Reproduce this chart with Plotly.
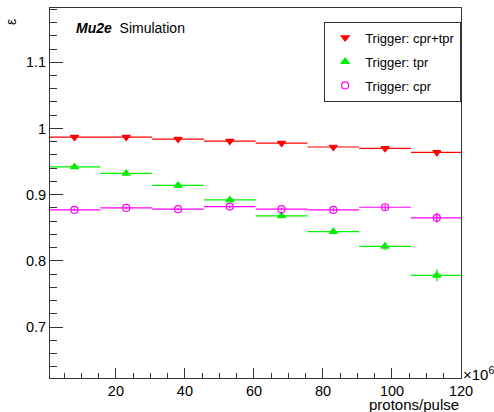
import plotly.graph_objects as go

# Data
bin_centers = [8, 23, 38, 53, 68, 83, 98, 113]
bin_half_width = [7.5] * 8

eff_cpr_tpr = [0.987, 0.987, 0.984, 0.981, 0.978, 0.972, 0.970, 0.964]
err_cpr_tpr = [0.002, 0.002, 0.002, 0.002, 0.002, 0.002, 0.002, 0.002]

eff_tpr = [0.942, 0.932, 0.914, 0.892, 0.868, 0.844, 0.822, 0.778]
err_tpr = [0.002, 0.002, 0.002, 0.002, 0.003, 0.004, 0.006, 0.009]

eff_cpr = [0.877, 0.880, 0.878, 0.882, 0.878, 0.877, 0.881, 0.865]
err_cpr = [0.002, 0.002, 0.002, 0.002, 0.002, 0.003, 0.004, 0.0075]

series_names = ["Trigger: cpr+tpr", "Trigger: tpr", "Trigger: cpr"]

FONT = "Liberation Sans, Arial, Helvetica, sans-serif"

fig = go.Figure()

def add_series(y, err, name, color, symbol, size, group):
    fig.add_trace(go.Scatter(
        x=bin_centers, y=y, name=name, mode="markers",
        legendgroup=group,
        marker=dict(color=color, symbol=symbol, size=size,
                    line=dict(color=color, width=1.2)),
        error_x=dict(type="data", array=bin_half_width, color=color,
                     thickness=1.2, width=0, visible=True),
        error_y=dict(type="data", array=err, color=color,
                     thickness=1.2, width=0, visible=True),
    ))

add_series(eff_cpr_tpr, err_cpr_tpr, series_names[0], "#ff0000", "triangle-down", 7, "a")
add_series(eff_tpr, err_tpr, series_names[1], "#00ee00", "triangle-up", 7, "b")
add_series(eff_cpr, err_cpr, series_names[2], "#ff00ff", "circle-open", 7, "c")

axis_common = dict(
    showline=True, linecolor="#333333", linewidth=1, mirror=True,
    ticks="inside", tickcolor="#333333", tickwidth=1,
    showgrid=False, zeroline=False,
    tickfont=dict(family=FONT, size=14.5, color="#000000"),
)

fig.update_xaxes(range=[0.9, 120], dtick=20, tick0=0, ticklen=10,
                 minor=dict(dtick=5, ticks="inside", ticklen=5, tickcolor="#333333", showgrid=False),
                 **axis_common)
fig.update_yaxes(range=[0.623, 1.182], dtick=0.1, tick0=0, ticklen=13,
                 minor=dict(dtick=0.02, ticks="inside", ticklen=7, tickcolor="#333333", showgrid=False),
                 **axis_common)

fig.add_annotation(x=0.058, y=0.945, xref="paper", yref="paper", xanchor="left", yanchor="middle",
                   text="<b><i>Mu2e</i></b>  Simulation", showarrow=False,
                   font=dict(family=FONT, size=14, color="#000000"))
fig.add_annotation(x=1.0, y=0.012, xref="paper", yref="paper", xanchor="left", yanchor="middle",
                   text="×10<sup>6</sup>", showarrow=False,
                   font=dict(family=FONT, size=15, color="#000000"))
fig.add_annotation(x=1.0, y=-0.071, xref="paper", yref="paper", xanchor="right", yanchor="middle",
                   text="protons/pulse", showarrow=False,
                   font=dict(family=FONT, size=15, color="#000000"))
fig.add_annotation(x=-0.095, y=0.962, xref="paper", yref="paper", xanchor="center", yanchor="middle",
                   text="ε", textangle=-90, showarrow=False,
                   font=dict(family=FONT, size=14, color="#000000"))

fig.update_layout(
    width=494, height=412, autosize=False,
    margin=dict(l=50, r=33, t=8, b=34),
    paper_bgcolor="white", plot_bgcolor="white",
    showlegend=True,
    legend=dict(x=0.667, y=0.963, xanchor="left", yanchor="top",
                bgcolor="white", bordercolor="#333333", borderwidth=1,
                font=dict(family=FONT, size=13, color="#000000"),
                tracegroupgap=4, itemwidth=30),
)

fig.write_html("out.html", config={"displayModeBar": False},
               post_script="document.body.style.margin='0px';")
